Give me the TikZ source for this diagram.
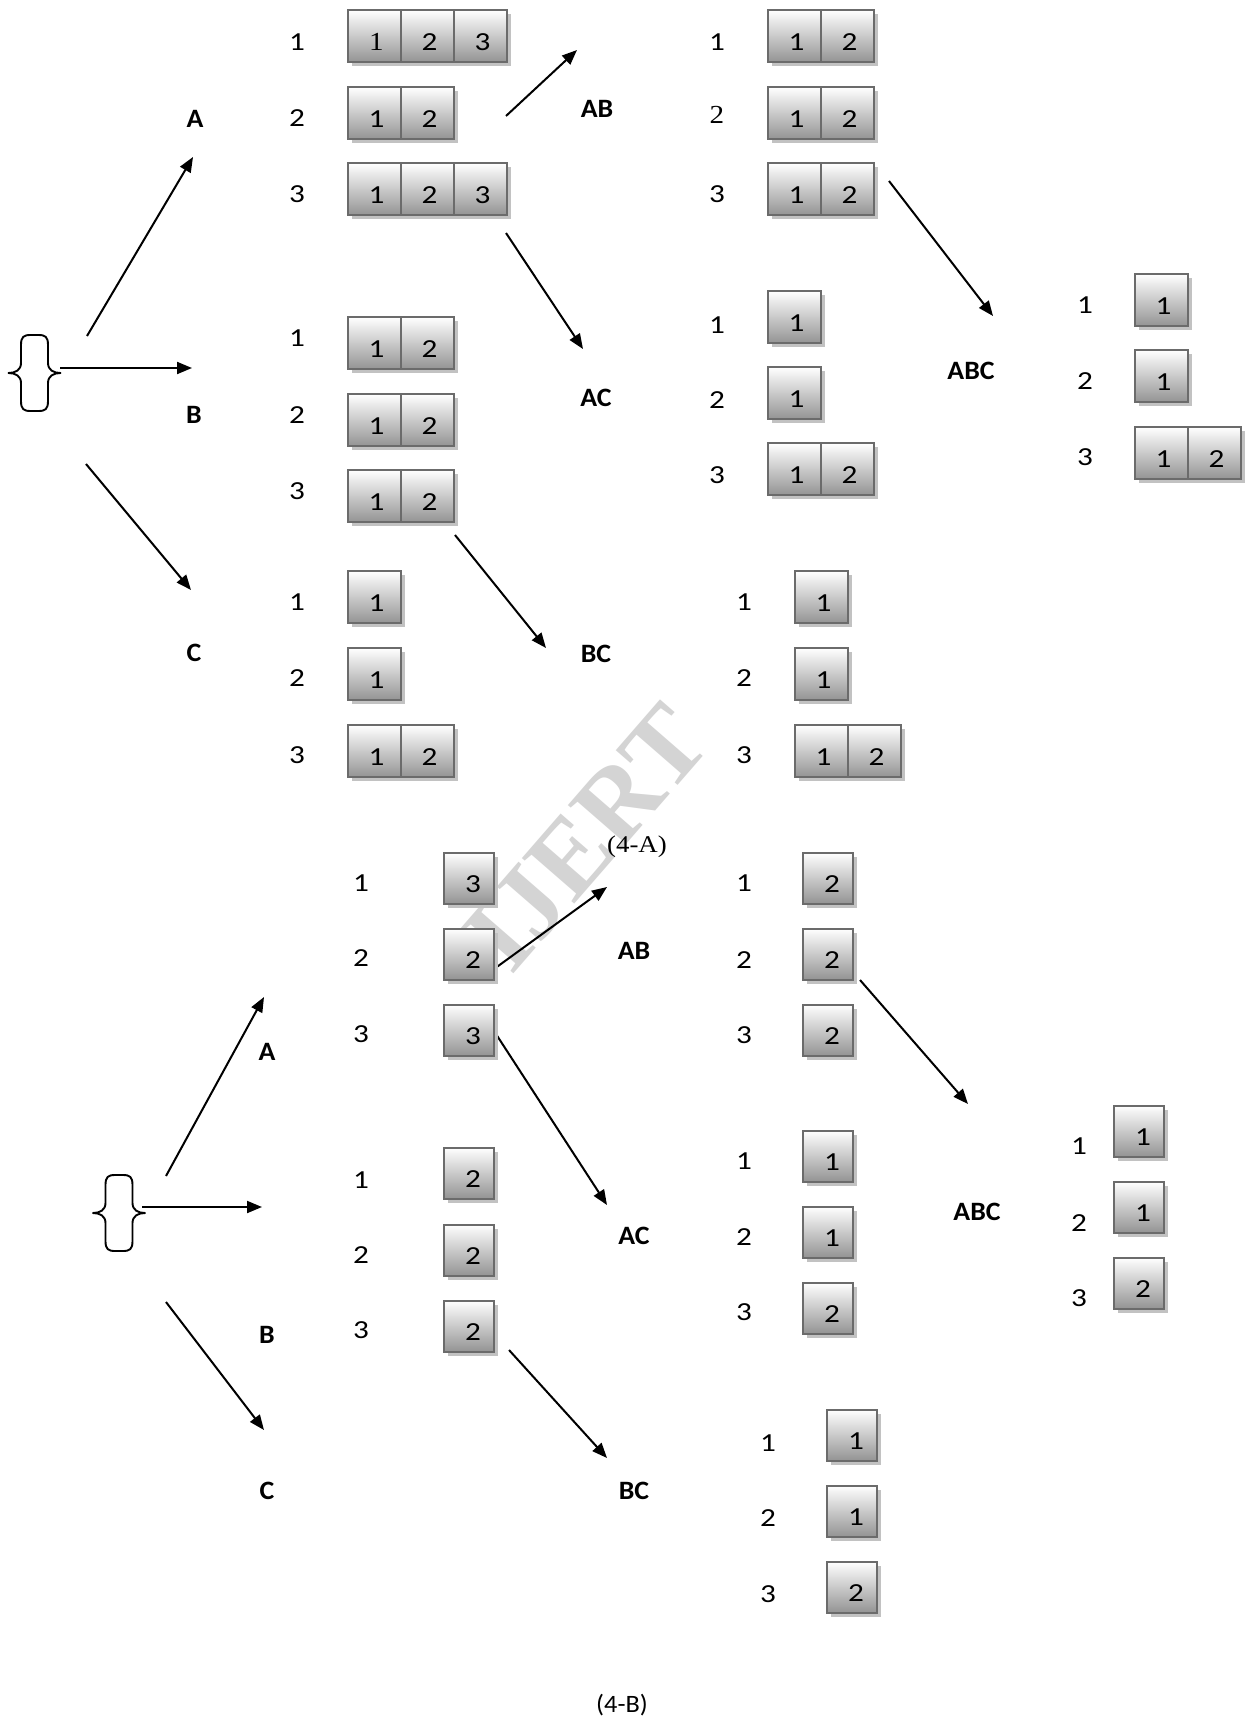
\documentclass[tikz,border=0pt]{standalone}
\usepackage{fontspec}
\setmainfont{Carlito}[FakeStretch=1.2]
\newfontfamily\setfont{Carlito}[FakeStretch=1.05]
\newfontfamily\tnr{Liberation Serif}[FakeStretch=1.12]
\newfontfamily\wmfont{Liberation Serif}
\usetikzlibrary{arrows.meta,shadows}

\tikzset{
  lbl/.style={inner sep=0pt, font=\fontsize{26}{30}\selectfont},
  setname/.style={inner sep=0pt, font=\setfont\bfseries\fontsize{26.5}{30}\selectfont},
  caption/.style={inner sep=0pt, font=\setfont\fontsize{25}{30}\selectfont},
  nudge/.style={execute at begin node={\hspace*{#1}}},
  cellbox/.style={draw=black!58, line width=2pt, top color=white, bottom color=black!42,
    inner sep=0pt, text height=29pt, text depth=0pt,
    font=\fontsize{26}{30}\selectfont,
    drop shadow={shadow xshift=4pt, shadow yshift=-4pt, fill=black!24, opacity=1}},
  arr/.style={line width=2pt, -{Triangle[length=15pt,width=12pt]}},
  bracepic/.pic={
    \draw[line width=1.9pt, line join=round]
      (-4,-38) .. controls (-11,-38) and (-13.5,-36) .. (-13.5,-28) -- (-13.5,-10)
      .. controls (-13.5,-3) and (-19,0) .. (-26,0)
      .. controls (-19,0) and (-13.5,3) .. (-13.5,10) -- (-13.5,28)
      .. controls (-13.5,36) and (-11,38) .. (-4,38) -- (4,38)
      .. controls (11,38) and (13.5,36) .. (13.5,28) -- (13.5,10)
      .. controls (13.5,3) and (19,0) .. (26,0)
      .. controls (19,0) and (13.5,-3) .. (13.5,-10) -- (13.5,-28)
      .. controls (13.5,-36) and (11,-38) .. (4,-38) -- cycle;
  }
}

% a row of shaded cells: name, left x, centre y, cell width, cell height, nudge, entries
\newcommand\cellrow[7]{%
  \foreach \v [count=\i] in {#7} {
    \node[cellbox, nudge=#6, minimum width=#4pt, minimum height=#5pt]
      (#1-\i) at ({#2+(\i-0.5)*#4}, #3) {\v};
  }}
% the three row numbers of a set
\newcommand\rowlbls[5]{%
  \node[lbl] (#1-1) at (#2,#3) {1};
  \node[lbl] (#1-2) at (#2,#4) {2};
  \node[lbl] (#1-3) at (#2,#5) {3};}

\begin{document}
\begin{tikzpicture}[x=1pt,y=-1pt]
\useasboundingbox[fill=white] (0,0) rectangle (1249,1723);

% watermark
\node[inner sep=0pt, rotate=49, text=black!17, font=\wmfont\bfseries\fontsize{106}{106}\selectfont]
  (wm) at (587,838) {IJERT};

% ---------------- (4-A) ----------------
\pic at (34.5,373) {bracepic};
\coordinate (t0a) at (87,336);  \coordinate (t0b) at (193,157);
\coordinate (t1a) at (60,368);  \coordinate (t1b) at (192,368);
\coordinate (t2a) at (86,464);  \coordinate (t2b) at (191,590);
\coordinate (t3a) at (506,116); \coordinate (t3b) at (577,50);
\coordinate (t4a) at (506,233); \coordinate (t4b) at (583,349);
\coordinate (t5a) at (455,535); \coordinate (t5b) at (546,648);
\coordinate (t6a) at (889,181); \coordinate (t6b) at (993,316);
\foreach \k in {0,...,6} { \draw[arr] (t\k a) -- (t\k b); }

\node[setname] (tA)   at (195,119) {A};
\node[setname] (tB)   at (194,415) {B};
\node[setname] (tC)   at (194,653) {C};
\node[setname] (tAB)  at (597,109) {AB};
\node[setname] (tAC)  at (596,398) {AC};
\node[setname] (tBC)  at (596,654) {BC};
\node[setname] (tABC) at (971,371) {ABC};

% set A
\rowlbls{tAl}{297}{42}{118}{194}
\cellrow{tAr1}{348}{36}{53}{52}{4pt}{{\tnr 1},2,3}
\cellrow{tAr2}{348}{113}{53}{52}{4pt}{1,2}
\cellrow{tAr3}{348}{189}{53}{52}{4pt}{1,2,3}
% set B
\rowlbls{tBl}{297}{338}{415}{491}
\cellrow{tBr1}{348}{343}{53}{52}{4pt}{1,2}
\cellrow{tBr2}{348}{420}{53}{52}{4pt}{1,2}
\cellrow{tBr3}{348}{496}{53}{52}{4pt}{1,2}
% set C
\rowlbls{tCl}{297}{602}{678}{755}
\cellrow{tCr1}{348}{597}{53}{52}{4pt}{1}
\cellrow{tCr2}{348}{674}{53}{52}{4pt}{1}
\cellrow{tCr3}{348}{751}{53}{52}{4pt}{1,2}
% set AB
\node[lbl] (tABl-1) at (717,42) {1};
\node[lbl] (tABl-2) at (717,115) {\tnr 2};
\node[lbl] (tABl-3) at (717,194) {3};
\cellrow{tABr1}{768}{36}{53}{52}{4pt}{1,2}
\cellrow{tABr2}{768}{113}{53}{52}{4pt}{1,2}
\cellrow{tABr3}{768}{189}{53}{52}{4pt}{1,2}
% set AC
\rowlbls{tACl}{717}{325}{400}{475}
\cellrow{tACr1}{768}{317}{53}{52}{4pt}{1}
\cellrow{tACr2}{768}{393}{53}{52}{4pt}{1}
\cellrow{tACr3}{768}{469}{53}{52}{4pt}{1,2}
% set BC
\rowlbls{tBCl}{744}{602}{678}{755}
\cellrow{tBCr1}{795}{597}{53}{52}{4pt}{1}
\cellrow{tBCr2}{795}{674}{53}{52}{4pt}{1}
\cellrow{tBCr3}{795}{751}{53}{52}{4pt}{1,2}
% set ABC
\rowlbls{tABCl}{1085}{305}{381}{457}
\cellrow{tABCr1}{1135}{300}{53}{52}{4pt}{1}
\cellrow{tABCr2}{1135}{376}{53}{52}{4pt}{1}
\cellrow{tABCr3}{1135}{453}{53}{52}{4pt}{1,2}

\node[caption, font=\tnr\fontsize{24}{28}\selectfont] (capA) at (637,847) {(4-A)};

% ---------------- (4-B) ----------------
\pic at (119,1213) {bracepic};
\coordinate (b0a) at (166,1176); \coordinate (b0b) at (264,997);
\coordinate (b1a) at (142,1207); \coordinate (b1b) at (262,1207);
\coordinate (b2a) at (166,1302); \coordinate (b2b) at (264,1430);
\coordinate (b3a) at (494,969);  \coordinate (b3b) at (607,887);
\coordinate (b4a) at (494,1031); \coordinate (b4b) at (607,1205);
\coordinate (b5a) at (509,1350); \coordinate (b5b) at (607,1458);
\coordinate (b6a) at (860,980);  \coordinate (b6b) at (968,1104);
\foreach \k in {0,...,6} { \draw[arr] (b\k a) -- (b\k b); }

\node[setname] (bA)   at (267,1052) {A};
\node[setname] (bB)   at (267,1335) {B};
\node[setname] (bC)   at (267,1491) {C};
\node[setname] (bAB)  at (634,951)  {AB};
\node[setname] (bAC)  at (634,1236) {AC};
\node[setname] (bBC)  at (634,1491) {BC};
\node[setname] (bABC) at (977,1212) {ABC};

% set A
\rowlbls{bAl}{361}{883}{958}{1034}
\cellrow{bAr1}{444}{878}{50}{51}{8pt}{3}
\cellrow{bAr2}{444}{954}{50}{51}{8pt}{2}
\cellrow{bAr3}{444}{1030}{50}{51}{8pt}{3}
% set B
\rowlbls{bBl}{361}{1180}{1255}{1330}
\cellrow{bBr1}{444}{1173}{50}{51}{8pt}{2}
\cellrow{bBr2}{444}{1250}{50}{51}{8pt}{2}
\cellrow{bBr3}{444}{1326}{50}{51}{8pt}{2}
% set AB
\rowlbls{bABl}{744}{883}{960}{1035}
\cellrow{bABr1}{803}{878}{50}{51}{8pt}{2}
\cellrow{bABr2}{803}{954}{50}{51}{8pt}{2}
\cellrow{bABr3}{803}{1030}{50}{51}{8pt}{2}
% set AC
\rowlbls{bACl}{744}{1161}{1237}{1312}
\cellrow{bACr1}{803}{1156}{50}{51}{8pt}{1}
\cellrow{bACr2}{803}{1232}{50}{51}{8pt}{1}
\cellrow{bACr3}{803}{1308}{50}{51}{8pt}{2}
% set BC
\rowlbls{bBCl}{768}{1443}{1518}{1594}
\cellrow{bBCr1}{827}{1435}{50}{51}{8pt}{1}
\cellrow{bBCr2}{827}{1511}{50}{51}{8pt}{1}
\cellrow{bBCr3}{827}{1587}{50}{51}{8pt}{2}
% set ABC
\rowlbls{bABCl}{1079}{1146}{1223}{1298}
\cellrow{bABCr1}{1114}{1131}{50}{51}{8pt}{1}
\cellrow{bABCr2}{1114}{1207}{50}{51}{8pt}{1}
\cellrow{bABCr3}{1114}{1283}{50}{51}{8pt}{2}

\node[caption] (capB) at (622,1705) {(4-B)};
\end{tikzpicture}
\end{document}
